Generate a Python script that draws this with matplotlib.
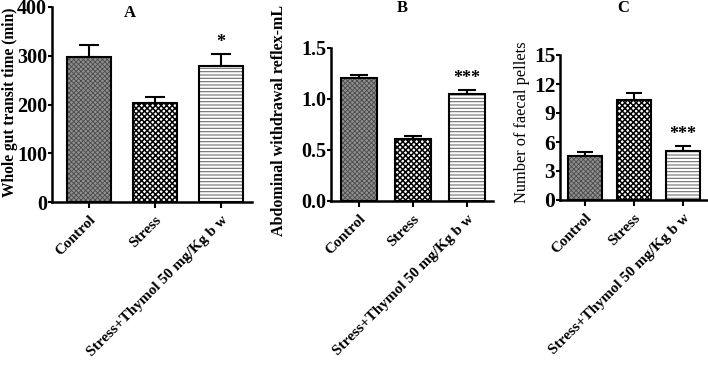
import matplotlib.pyplot as plt
import numpy as np

plt.rcParams['font.family'] = ['Liberation Serif', 'DejaVu Serif']
plt.rcParams['font.weight'] = 'bold'

groups = ['Control', 'Stress', 'Stress+Thymol 50 mg/Kg b w']

transit_mean = [298, 204, 279]
transit_sem = [24, 12, 25]
transit_sig = ['', '', '*']

awr_mean = [1.20, 0.61, 1.045]
awr_sem = [0.035, 0.03, 0.045]
awr_sig = ['', '', '***']

pellets_mean = [4.6, 10.35, 5.1]
pellets_sem = [0.35, 0.72, 0.48]
pellets_sig = ['', '', '***']

# bar looks: fill colour, hatch, hatch colour, hatch width
styles = [('#8f8f8f', 'xxxxxxx', '#4a4a4a', 0.6),
          ('white', 'xxxxxx', 'black', 1.1),
          ('white', '-----', '#707070', 0.8)]

W, H = 708, 369
fig = plt.figure(figsize=(W / 100, H / 100), dpi=100)


def box(x0, y_top, x1, y_bot):
    return [x0 / W, 1 - y_bot / H, (x1 - x0) / W, (y_bot - y_top) / H]


def panel(rect, means, sems, sig, ylim, yticks, yfmt, tick_fs, xlim, width, capsize):
    ax = fig.add_axes(rect)
    x = np.arange(len(groups))
    for i, (fc, hatch, hc, hlw) in enumerate(styles):
        with plt.rc_context({'hatch.linewidth': hlw}):
            ax.bar(x[i], means[i], width, color=fc, hatch=hatch, edgecolor=hc, linewidth=0, zorder=2)
    ax.bar(x, means, width, fill=False, edgecolor='black', linewidth=1.5, zorder=3)
    ax.errorbar(x, means, yerr=[np.zeros(len(x)), sems], fmt='none', ecolor='black',
                elinewidth=1.5, capsize=capsize, capthick=1.5, zorder=1)
    for i, s in enumerate(sig):
        if s:
            ax.annotate(s, (x[i], means[i] + sems[i]), xytext=(0, 2), textcoords='offset points',
                        ha='center', va='bottom', fontsize=13, fontweight='bold')
    ax.set_ylim(*ylim)
    ax.set_xlim(*xlim)
    ax.set_yticks(yticks)
    ax.set_yticklabels([yfmt.format(v) for v in yticks], fontsize=tick_fs, fontweight='bold')
    ax.set_xticks(x)
    ax.set_xticklabels(groups, rotation=45, ha='right', rotation_mode='anchor',
                       fontsize=11, fontweight='bold')
    for s in ['top', 'right']:
        ax.spines[s].set_visible(False)
    for s in ['left', 'bottom']:
        ax.spines[s].set_linewidth(1.8)
    ax.tick_params(axis='y', length=3, width=1.5, pad=0.5)
    ax.tick_params(axis='x', length=4, width=1.5, pad=4)
    return ax


axA = panel(box(52, 7, 252, 202), transit_mean, transit_sem, transit_sig,
            (0, 400), [0, 100, 200, 300, 400], '{:d}', 14.5, (-0.56, 2.47), 0.667, 7.5)
axB = panel(box(331, 47.7, 493, 201), awr_mean, awr_sem, awr_sig,
            (0, 1.5), [0.0, 0.5, 1.0, 1.5], '{:.1f}', 14.5, (-0.52, 2.48), 0.667, 6.5)
axC = panel(box(560, 55, 707, 200), pellets_mean, pellets_sem, pellets_sig,
            (0, 15), [0, 3, 6, 9, 12, 15], '{:d}', 15.5, (-0.5, 2.49), 0.69, 5.8)

fig.text(10 / W, 1 - 102 / H, 'Whole gut transit time (min)', rotation=90,
         ha='center', va='center', fontsize=11.2, fontweight='bold')
fig.text(279 / W, 1 - 120 / H, 'Abdominal withdrawal reflex-mL', rotation=90,
         ha='center', va='center', fontsize=11.5, fontweight='bold')
fig.text(522 / W, 1 - 122 / H, 'Number of faecal pellets', rotation=90,
         ha='center', va='center', fontsize=11.8, fontweight='normal')

fig.text(130 / W, 1 - 13 / H, 'A', ha='center', va='center', fontsize=12, fontweight='bold')
fig.text(402 / W, 1 - 8 / H, 'B', ha='center', va='center', fontsize=12, fontweight='bold')
fig.text(623 / W, 1 - 8 / H, 'C', ha='center', va='center', fontsize=12, fontweight='bold')

fig.savefig('out.png', dpi=100)
